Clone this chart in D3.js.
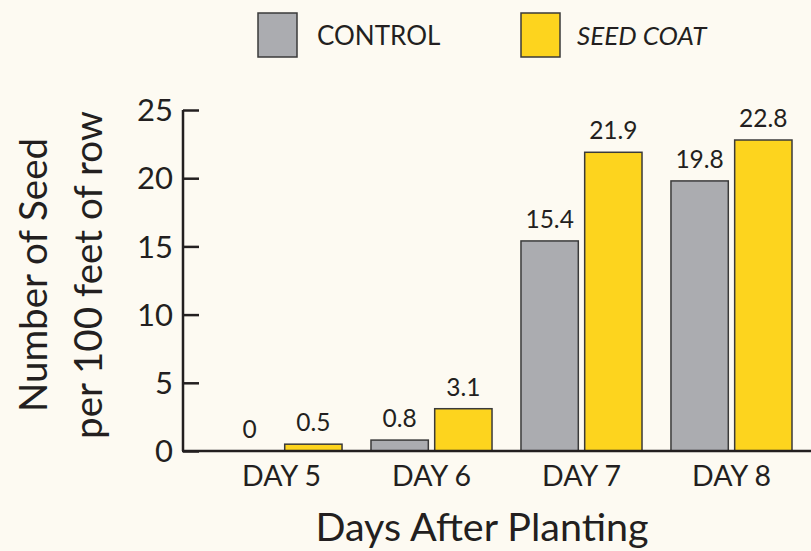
<!DOCTYPE html>
<html>
<head>
<meta charset="utf-8">
<script src="https://cdn.jsdelivr.net/npm/d3@7.9.0/dist/d3.min.js"></script>
<style>
  body { margin: 0; background: #fdfaf2; }
  svg { display: block; font-family: "Lato", sans-serif; }
</style>
</head>
<body>
<svg id="chart" width="811" height="551"></svg>
<script>
// data
const days = ["DAY 5", "DAY 6", "DAY 7", "DAY 8"];
const seriesNames = ["CONTROL", "SEED COAT"];
const control = [0, 0.8, 15.4, 19.8];
const seedCoat = [0.5, 3.1, 21.9, 22.8];
const yTicks = [0, 5, 10, 15, 20, 25];

const colors = { "CONTROL": "#abacb0", "SEED COAT": "#fdd41e" };
const ink = "#231f20";

const svg = d3.select("#chart");

// scales
const x = d3.scaleBand()
  .domain(days)
  .range([206, 807])
  .paddingInner(0.193)
  .paddingOuter(0.1);

const xSub = d3.scaleBand()
  .domain(seriesNames)
  .range([0, x.bandwidth()])
  .paddingInner(0.1);

const y = d3.scaleLinear().domain([0, 25]).range([451, 110]);

const rows = days.map((d, i) => ({ day: d, values: [
  { key: "CONTROL", value: control[i] },
  { key: "SEED COAT", value: seedCoat[i] }
]}));

// bars
const groups = svg.selectAll("g.group")
  .data(rows)
  .join("g")
  .attr("class", "group")
  .attr("transform", d => `translate(${x(d.day)},0)`);

groups.selectAll("rect")
  .data(d => d.values.filter(v => v.value > 0))
  .join("rect")
  .attr("x", v => xSub(v.key))
  .attr("y", v => y(v.value))
  .attr("width", xSub.bandwidth())
  .attr("height", v => y(0) - y(v.value))
  .attr("fill", v => colors[v.key])
  .attr("stroke", "#3a3a3a")
  .attr("stroke-width", 1.5);

groups.selectAll("text")
  .data(d => d.values)
  .join("text")
  .attr("x", v => xSub(v.key) + xSub.bandwidth() / 2)
  .attr("y", v => y(v.value) - 13)
  .attr("text-anchor", "middle")
  .attr("font-size", 24.5)
  .attr("fill", ink)
  .text(v => v.value);

// y axis
const yAxis = d3.axisRight(y).tickValues(yTicks).tickSize(16).tickFormat("");
const gy = svg.append("g").attr("transform", "translate(183,0)").call(yAxis);
gy.select(".domain").attr("stroke", ink).attr("stroke-width", 2.5)
  .attr("d", `M0,${y(25)}V${y(0)}`);
gy.selectAll(".tick line").attr("stroke", ink).attr("stroke-width", 2.5);

svg.selectAll("text.ytick")
  .data(yTicks)
  .join("text")
  .attr("class", "ytick")
  .attr("x", 173)
  .attr("y", d => y(d))
  .attr("dy", "0.36em")
  .attr("text-anchor", "end")
  .attr("font-size", 31)
  .attr("fill", ink)
  .text(d => d);

// x baseline
svg.append("line")
  .attr("x1", 182).attr("x2", 811)
  .attr("y1", y(0)).attr("y2", y(0))
  .attr("stroke", ink).attr("stroke-width", 2.5);

// x category labels
const xAxis = d3.axisBottom(x).tickSize(0).tickPadding(15);
const gx = svg.append("g").attr("transform", `translate(0,${y(0)})`).call(xAxis);
gx.select(".domain").remove();
gx.selectAll("text").attr("font-size", 28.5).attr("fill", ink).attr("font-family", "Lato, sans-serif");

// axis titles
svg.append("text")
  .attr("x", 482).attr("y", 541)
  .attr("text-anchor", "middle")
  .attr("font-size", 39.5)
  .attr("fill", ink)
  .text("Days After Planting");

const yTitle = svg.append("text")
  .attr("transform", "translate(0,275) rotate(-90)")
  .attr("text-anchor", "middle")
  .attr("font-size", 38.5)
  .attr("fill", ink);
yTitle.append("tspan").attr("x", 0).attr("y", 47).text("Number of Seed");
yTitle.append("tspan").attr("x", 0).attr("y", 102).text("per 100 feet of row");

// legend
const legendItems = [
  { key: "CONTROL", x: 258, tx: 317, italic: false },
  { key: "SEED COAT", x: 521, tx: 577, italic: true }
];
const lg = svg.selectAll("g.legend")
  .data(legendItems)
  .join("g")
  .attr("class", "legend");
lg.append("rect")
  .attr("x", d => d.x).attr("y", 13)
  .attr("width", 39).attr("height", 44)
  .attr("fill", d => colors[d.key])
  .attr("stroke", "#3a3a3a").attr("stroke-width", 1.5);
lg.append("text")
  .attr("x", d => d.tx).attr("y", 45)
  .attr("font-size", 26)
  .attr("font-style", d => d.italic ? "italic" : "normal")
  .attr("fill", ink)
  .text(d => d.key);
</script>
</body>
</html>
